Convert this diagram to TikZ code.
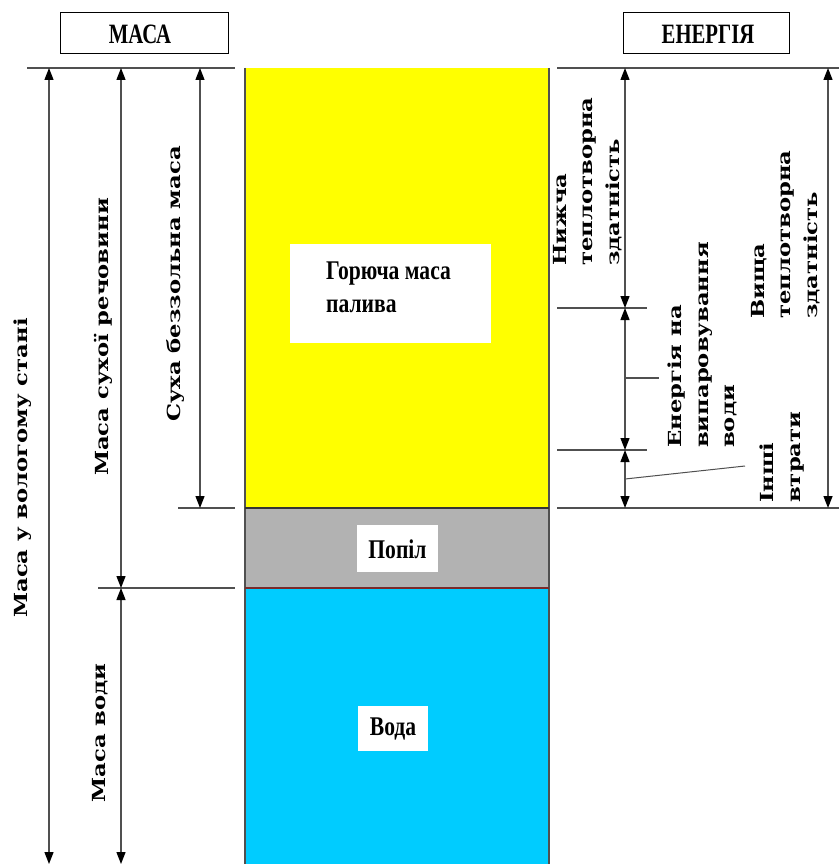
\documentclass[tikz,border=0pt]{standalone}
\usepackage{fontspec}
\setmainfont{Liberation Serif}
\newfontfamily\slabfont[FakeStretch=1.26]{DejaVu Serif}
\usetikzlibrary{arrows.meta}
\definecolor{fuelyellow}{HTML}{FFFF00}
\definecolor{ashgray}{HTML}{B2B2B2}
\definecolor{waterblue}{HTML}{00CCFF}
\definecolor{lingray}{HTML}{505050}
\definecolor{sepred}{HTML}{7A2A2A}
\begin{document}
\begin{tikzpicture}[x=1pt,y=-1pt,
  tipstyle/.style={},
  dim/.style={draw=lingray, line width=1.3pt, {Triangle[length=12pt,width=9pt,color=black]}-{Triangle[length=12pt,width=9pt,color=black]}},
  rulestyle/.style={draw=lingray, line width=1.6pt},
  header/.style={draw=black, line width=1pt, fill=white, minimum height=41pt, inner sep=0pt},
  headtext/.style={font=\bfseries\fontsize{28}{30}\selectfont, xscale=0.74, inner sep=0pt},
  vlabel/.style={rotate=90, font=\slabfont\bfseries\fontsize{18}{26.5}\selectfont, inner sep=0pt},
  mlabel/.style={vlabel, align=left, anchor=north west},
  whitebox/.style={fill=white, inner sep=0pt},
  boxtext/.style={font=\bfseries\fontsize{27}{33}\selectfont, xscale=0.8, inner sep=0pt, align=left}
]
\useasboundingbox (0,0) rectangle (839,864);
\fill[white] (0,0) rectangle (839,864);

% column
\fill[fuelyellow] (245,68) rectangle (549,508);
\fill[ashgray] (245,508) rectangle (549,588);
\fill[waterblue] (245,588) rectangle (549,864);
\draw[lingray, line width=1.5pt] (245,68) -- (245,864);
\draw[lingray, line width=1.5pt] (549,68) -- (549,864);
\draw[black!80, line width=1.2pt] (245,508) -- (549,508);
\draw[sepred, line width=1.2pt] (245,588) -- (549,588);

% headers
\node[header, minimum width=168pt] (hmasa) at (144,33.5) {};
\node[headtext] (hmasat) at (140,34) {МАСА};
\node[header, minimum width=166pt] (henergy) at (706,33.5) {};
\node[headtext] (henergyt) at (708,34) {ЕНЕРГІЯ};

% inner labels
\node[whitebox, minimum width=201pt, minimum height=99pt] (fuelbox) at (390.5,293.5) {};
\node[boxtext, anchor=north west] (fueltext) at (326,262) {Горюча маса\\палива};
\node[whitebox, minimum width=81pt, minimum height=47pt] (ashbox) at (397.5,548.5) {};
\node[boxtext] (ashtext) at (397.5,549) {Попіл};
\node[whitebox, minimum width=70pt, minimum height=45pt] (waterbox) at (393,728.5) {};
\node[boxtext] (watertext) at (393,729) {Вода};

% coordinates
\coordinate (lt1) at (27,68);   \coordinate (lt2) at (235,68);
\coordinate (rt1) at (557,68);  \coordinate (rt2) at (839,68);
\coordinate (la1) at (178,508); \coordinate (la2) at (235,508);
\coordinate (lb1) at (98,588);  \coordinate (lb2) at (235,588);
\coordinate (ra1) at (557,308); \coordinate (ra2) at (647,308);
\coordinate (rb1) at (557,450); \coordinate (rb2) at (647,450);
\coordinate (rc1) at (557,508); \coordinate (rc2) at (839,508);
\coordinate (mt1) at (625,378); \coordinate (mt2) at (659,378);
\coordinate (ld1) at (625,479); \coordinate (ld2) at (745,466);

\coordinate (a1t) at (49,68);  \coordinate (a1b) at (49,864);
\coordinate (a2t) at (121,68); \coordinate (a2m) at (121,588); \coordinate (a2b) at (121,864);
\coordinate (a3t) at (200,68); \coordinate (a3b) at (200,508);
\coordinate (e1t) at (625,68); \coordinate (e1a) at (625,308); \coordinate (e1b) at (625,450); \coordinate (e1c) at (625,508);
\coordinate (e2t) at (828,68); \coordinate (e2b) at (828,508);

% horizontal rules
\draw[rulestyle] (lt1) -- (lt2);
\draw[rulestyle] (rt1) -- (rt2);
\draw[rulestyle] (la1) -- (la2);
\draw[rulestyle] (lb1) -- (lb2);
\draw[rulestyle] (ra1) -- (ra2);
\draw[rulestyle] (rb1) -- (rb2);
\draw[rulestyle] (rc1) -- (rc2);
\draw[draw=lingray, line width=1.3pt] (mt1) -- (mt2);
\draw[draw=lingray, line width=1pt] (ld1) -- (ld2);

% dimension arrows
\draw[dim] (a1t) -- (a1b);
\draw[dim] (a2t) -- (a2m);
\draw[dim] (a2m) -- (a2b);
\draw[dim] (a3t) -- (a3b);
\draw[dim] (e1t) -- (e1a);
\draw[dim] (e1a) -- (e1b);
\draw[dim] (e1b) -- (e1c);
\draw[dim] (e2t) -- (e2b);

% left labels
\node[vlabel] (lwet) at (23,468) {Маса у вологому стані};
\node[vlabel] (ldry) at (103,337) {Маса сухої речовини};
\node[vlabel] (lash) at (176,284) {Суха беззольна маса};
\node[vlabel] (lwater) at (100,733) {Маса води};

% right labels
\node[mlabel] (rlow) at (553,266) {Нижча\\теплотворна\\здатність};
\node[mlabel] (revap) at (668,448) {Енергія на\\випаровування\\води};
\node[mlabel] (rhigh) at (751,319) {Вища\\теплотворна\\здатність};
\node[mlabel] (rloss) at (760,503) {Інші\\втрати};
\end{tikzpicture}
\end{document}
